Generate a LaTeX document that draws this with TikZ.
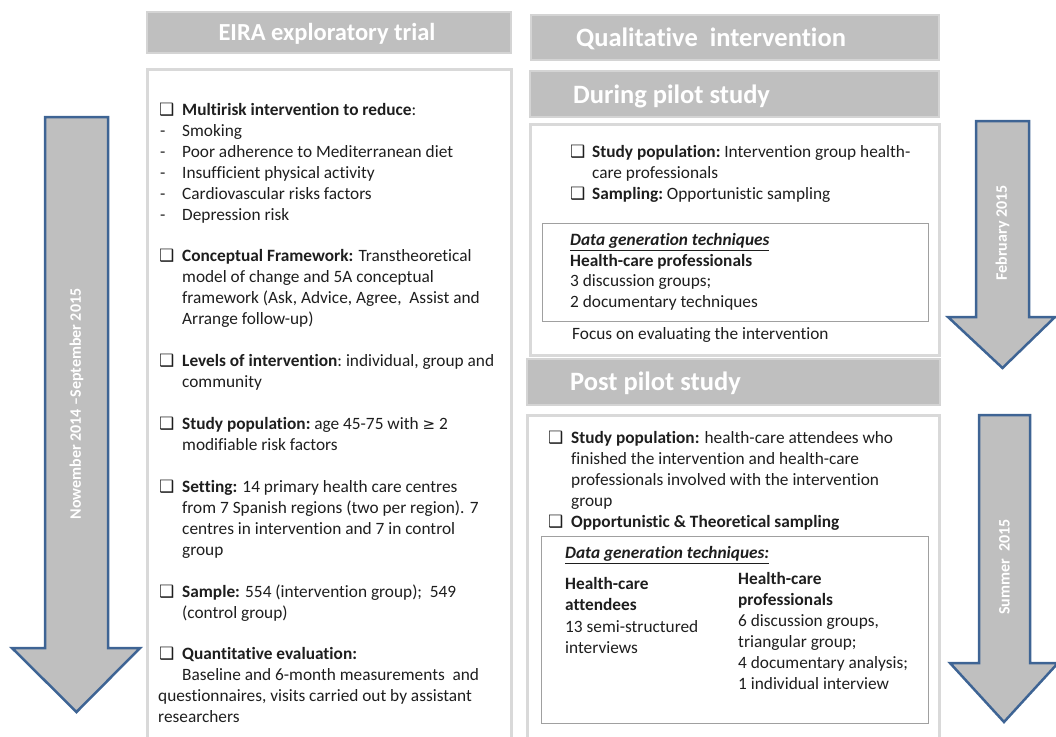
\documentclass[tikz,border=0pt]{standalone}
\usepackage{fontspec}
\setmainfont{Carlito}[Ligatures=NoCommon]
\newfontfamily\symf{DejaVu Sans}
\definecolor{hdrfill}{RGB}{191,191,191}
\definecolor{hdrline}{RGB}{212,212,212}
\definecolor{boxline}{RGB}{217,217,217}
\definecolor{iboxline}{RGB}{160,160,160}
\definecolor{arrfill}{RGB}{191,191,191}
\definecolor{arrline}{RGB}{62,100,148}
\definecolor{txtc}{RGB}{30,30,30}
\tikzset{
  hdr/.style={draw=hdrline, fill=hdrfill, line width=2bp},
  cbox/.style={draw=boxline, line width=3bp},
  ibox/.style={draw=iboxline, line width=1bp},
  tl/.style={anchor=mid west, inner sep=0pt, yshift=-3.5bp, text=txtc, font=\fontsize{17.3bp}{21bp}\selectfont},
  cb/.style={anchor=mid west, inner sep=0pt, yshift=-3.5bp, text=txtc, font=\symf\fontsize{17bp}{18bp}\selectfont},
  ttl/.style={anchor=mid west, inner sep=0pt, yshift=-4.5bp, text=white, font=\bfseries\fontsize{26.5bp}{30bp}\selectfont},
  arr/.style={draw=arrline, fill=arrfill, line width=2.5bp, line join=miter},
  arrtxt/.style={inner sep=0pt, text=white, rotate=90, font=\bfseries\fontsize{16bp}{18bp}\selectfont},
}
\newcommand\tln[4]{\node[tl] (#1) at (#2,#3) {#4};}
\newcommand\cbx[3]{\node[cb] (#1) at (#2,#3) {❑};}
\begin{document}
\begin{tikzpicture}[x=1bp,y=-1bp]
\useasboundingbox (0,0) rectangle (1056,737);
\clip (0,0) rectangle (1056,737);
% ---------- left arrow
\draw[arr] (45,117) -- (108,117) -- (108,648) -- (140,648) -- (76.5,712) -- (12,648) -- (45,648) -- cycle;
\node[arrtxt] (tA) at (76.5,404) {Nowember 2014 –September 2015};
% ---------- right arrows
\draw[arr] (976,121) -- (1029,121) -- (1029,317) -- (1055,317) -- (1002.5,368) -- (948,317) -- (976,317) -- cycle;
\node[arrtxt] (tB) at (1002.5,233) {February 2015};
\draw[arr] (979,415) -- (1030,415) -- (1030,663) -- (1058,663) -- (1004,722) -- (950,663) -- (979,663) -- cycle;
\node[arrtxt] (tC) at (1004.5,567) {Summer\ \ 2015};
% ---------- headers
\draw[hdr] (147,12) rectangle (511,53);
\node[ttl, anchor=mid, font=\bfseries\fontsize{24.5bp}{28bp}\selectfont] (h1) at (327,34) {EIRA exploratory trial};
\draw[hdr] (531,15) rectangle (939,60);
\node[ttl] (h2) at (576,40) {Qualitative\ \ intervention};
\draw[hdr] (530,71) rectangle (939,117);
\node[ttl] (h3) at (573,97) {During pilot study};
\draw[hdr] (527,359) rectangle (940,405);
\node[ttl] (h4) at (570,384) {Post pilot study};
% ---------- content boxes
\draw[cbox] (147,70) rectangle (511,745);
\draw[cbox] (530,124) rectangle (939,355);
\draw[cbox] (527,415) rectangle (939,745);
\draw[ibox] (542,223) rectangle (928,321);
\draw[ibox] (541,536) rectangle (928,723);
% ---------- left text
\cbx{c1}{159}{110}\tln{a1}{182}{110}{\textbf{Multirisk intervention to reduce}:}
\tln{d1}{160}{131}{-}\tln{a2}{182}{131}{Smoking}
\tln{d2}{160}{152}{-}\tln{a3}{182}{152}{Poor adherence to Mediterranean diet}
\tln{d3}{160}{173}{-}\tln{a4}{182}{173}{Insufficient physical activity}
\tln{d4}{160}{194}{-}\tln{a5}{182}{194}{Cardiovascular risks factors}
\tln{d5}{160}{215}{-}\tln{a6}{182}{215}{Depression risk}
\cbx{c2}{159}{256}\tln{b1}{182}{256}{\textbf{Conceptual Framework:} Transtheoretical}
\tln{b2}{182}{277}{model of change and 5A conceptual}
\tln{b3}{182}{298}{framework (Ask, Advice, Agree,\ \ Assist and}
\tln{b4}{182}{319}{Arrange follow-up)}
\cbx{c3}{159}{361}\tln{e1}{182}{361}{\textbf{Levels of intervention}:\ individual, group and}
\tln{e2}{182}{382}{community}
\cbx{c4}{159}{424}\tln{f1}{182}{424}{\textbf{Study population:}\ age 45-75 with {\symf\fontsize{15bp}{17bp}\selectfont ≥} 2}
\tln{f2}{182}{445}{modifiable risk factors}
\cbx{c5}{159}{487}\tln{g1}{182}{487}{\textbf{Setting:} 14 primary health care centres}
\tln{g2}{182}{508}{from 7 Spanish regions (two per region). 7}
\tln{g3}{182}{529}{centres in intervention and 7 in control}
\tln{g4}{182}{550}{group}
\cbx{c6}{159}{592}\tln{k1}{182}{592}{\textbf{Sample:} 554 (intervention group);\ \ 549}
\tln{k2}{182}{613}{(control group)}
\cbx{c7}{159}{654}\tln{m1}{182}{654}{\textbf{Quantitative evaluation:}}
\tln{m2}{182}{675}{Baseline and 6-month measurements\ \ and}
\tln{m3}{158}{696}{questionnaires, visits carried out by assistant}
\tln{m4}{158}{717}{researchers}
% ---------- during pilot text
\cbx{c8}{570}{152}\tln{p1}{592}{152}{\textbf{Study population:}\ Intervention group health-}
\tln{p2}{592}{173}{care professionals}
\cbx{c9}{570}{194}\tln{p3}{592}{194}{\textbf{Sampling:}\ Opportunistic sampling}
\tln{q1}{570}{240}{\textbf{\textit{\underline{Data generation\ techniques}}}}
\tln{q2}{570}{261}{\textbf{Health-care\ professionals}}
\tln{q3}{570}{281}{3 discussion groups;}
\tln{q4}{570}{302}{2 documentary techniques}
\tln{q5}{572}{334}{Focus on evaluating the intervention}
% ---------- post pilot text
\cbx{c10}{548}{438}\tln{r1}{571}{438}{\textbf{Study population:} health-care attendees who}
\tln{r2}{571}{459}{finished the intervention and health-care}
\tln{r3}{571}{480}{professionals\ involved with the\ intervention}
\tln{r4}{571}{501}{group}
\cbx{c11}{548}{522}\tln{r5}{571}{522}{\textbf{Opportunistic \& Theoretical sampling}}
\tln{s0}{565}{553}{\textbf{\textit{\underline{Data generation\ techniques:}}}}
\tln{s1}{565}{584}{\textbf{Health-care}}
\tln{s2}{565}{605}{\textbf{attendees}}
\tln{s3}{565}{627}{13 semi-structured}
\tln{s4}{565}{648}{interviews}
\tln{t1}{738}{579}{\textbf{Health-care}}
\tln{t2}{738}{600}{\textbf{professionals}}
\tln{t3}{738}{621}{6 discussion groups,}
\tln{t4}{738}{642}{triangular group;}
\tln{t5}{738}{663}{4 documentary analysis;}
\tln{t6}{738}{684}{1 individual interview}
\end{tikzpicture}
\end{document}
